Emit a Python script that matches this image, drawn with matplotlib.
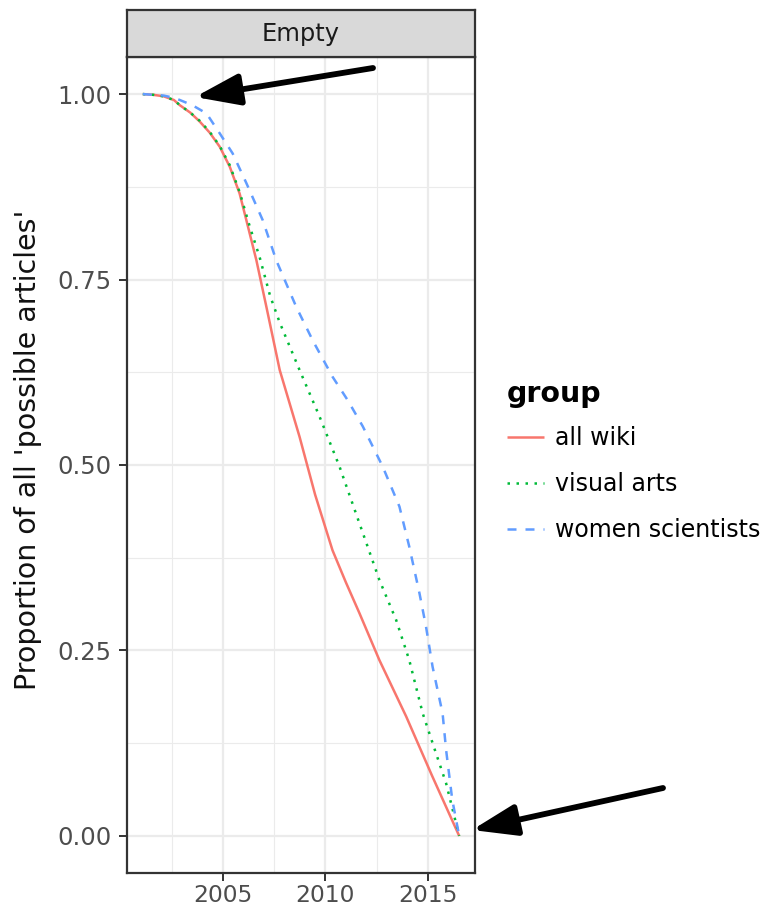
import matplotlib
matplotlib.use("Agg")
import matplotlib.pyplot as plt
import numpy as np

# Share of "possible articles" still empty over time, per group
all_wiki_year = [2001.08, 2001.6, 2002.1, 2002.6, 2002.89, 2003.4, 2003.86, 2004.35, 2004.84,
                 2005.33, 2005.81, 2006.14, 2006.63, 2007.12, 2007.77, 2008.74, 2009.5,
                 2010.35, 2011.0, 2011.67, 2012.64, 2013.95, 2015.2, 2016.54]
all_wiki_prop = [1.000, 0.999, 0.997, 0.992, 0.985, 0.975, 0.963, 0.948, 0.929,
                 0.902, 0.866, 0.830, 0.776, 0.713, 0.628, 0.538, 0.460,
                 0.385, 0.342, 0.300, 0.237, 0.161, 0.082, 0.000]

visual_arts_year = [2001.08, 2001.6, 2002.1, 2002.6, 2002.89, 2003.4, 2003.86, 2004.35, 2004.84,
                    2005.33, 2005.81, 2006.3, 2006.79, 2007.3, 2007.77, 2008.74, 2009.72,
                    2010.69, 2011.67, 2012.64, 2013.46, 2014.1, 2014.76, 2015.4, 2015.9, 2016.54]
visual_arts_prop = [1.000, 0.999, 0.997, 0.992, 0.985, 0.975, 0.964, 0.949, 0.930,
                    0.904, 0.868, 0.822, 0.780, 0.728, 0.692, 0.628, 0.565,
                    0.498, 0.421, 0.345, 0.291, 0.237, 0.165, 0.112, 0.071, 0.000]

women_sci_year = [2001.08, 2001.6, 2002.1, 2002.6, 2002.89, 2003.5, 2004.19, 2004.84, 2005.47,
                  2006.14, 2006.94, 2007.6, 2008.58, 2009.4, 2010.35, 2011.1, 2011.83,
                  2012.8, 2013.62, 2014.1, 2014.6, 2014.92, 2015.24, 2015.73, 2015.9,
                  2016.2, 2016.54]
women_sci_prop = [1.000, 0.999, 0.998, 0.995, 0.992, 0.985, 0.974, 0.947, 0.920,
                  0.880, 0.830, 0.776, 0.713, 0.667, 0.619, 0.587, 0.552,
                  0.498, 0.444, 0.390, 0.327, 0.282, 0.228, 0.165, 0.116,
                  0.049, 0.000]

group_labels = ["all wiki", "visual arts", "women scientists"]
facet_label = "Empty"
x_ticks = [2005, 2010, 2015]
y_ticks = [0.00, 0.25, 0.50, 0.75, 1.00]

W, H = 768, 909
fig = plt.figure(figsize=(W / 100, H / 100), dpi=100)
fig.patch.set_facecolor("white")

def fx(px):
    return px / W

def fy(py):
    return 1 - py / H

# panel
p_left, p_right, p_top, p_bot = 127, 475, 57, 873
ax = fig.add_axes([fx(p_left), fy(p_bot), fx(p_right - p_left), (p_bot - p_top) / H])

colors = ["#F8766D", "#00BA38", "#619CFF"]
lw = 1.8
l1, = ax.plot(all_wiki_year, all_wiki_prop, color=colors[0], lw=lw, solid_capstyle="butt")
l2, = ax.plot(visual_arts_year, visual_arts_prop, color=colors[1], lw=lw,
              dashes=(1, 2.6), dash_capstyle="butt")
l3, = ax.plot(women_sci_year, women_sci_prop, color=colors[2], lw=lw,
              dashes=(3.6, 3.6), dash_capstyle="butt")

xmin = min(all_wiki_year[0], visual_arts_year[0], women_sci_year[0])
xmax = max(all_wiki_year[-1], visual_arts_year[-1], women_sci_year[-1])
xpad = 0.05 * (xmax - xmin)
ax.set_xlim(xmin - xpad, xmax + xpad)
ax.set_ylim(-0.05, 1.05)

ax.set_xticks(x_ticks)
ax.set_xticks([2002.5, 2007.5, 2012.5], minor=True)
ax.set_yticks(y_ticks)
ax.set_yticks([0.125, 0.375, 0.625, 0.875], minor=True)
ax.set_yticklabels([f"{v:.2f}" for v in y_ticks])

ax.grid(which="major", color="#EBEBEB", lw=1.6)
ax.grid(which="minor", color="#EBEBEB", lw=0.8)
ax.set_axisbelow(True)
for s in ax.spines.values():
    s.set_color("#333333")
    s.set_linewidth(1.6)
ax.tick_params(which="major", length=6, width=1.4, color="#333333",
               labelcolor="#4D4D4D")
ax.tick_params(axis="y", which="major", labelsize=17.5, pad=5)
ax.tick_params(axis="x", which="major", labelsize=16.8, pad=2)
ax.tick_params(which="minor", length=0)

ax.set_ylabel("Proportion of all 'possible articles'", fontsize=20.5, color="#111111")
ax.yaxis.set_label_coords((42 - p_left) / (p_right - p_left), (p_bot - 450) / (p_bot - p_top))

# facet strip
strip = fig.add_axes([fx(p_left), fy(p_top), fx(p_right - p_left), (p_top - 10) / H])
strip.set_facecolor("#D9D9D9")
strip.set_xticks([])
strip.set_yticks([])
for s in strip.spines.values():
    s.set_color("#333333")
    s.set_linewidth(1.6)
strip.text(0.5, 0.5, facet_label, ha="center", va="center", fontsize=17.4, color="#1A1A1A")

# legend
leg = fig.legend([l1, l2, l3], group_labels, title="group", loc="upper left",
                 bbox_to_anchor=(fx(507), fy(380)), frameon=False, fontsize=17,
                 title_fontproperties={"size": 20.5, "weight": "bold"},
                 handlelength=1.55, handletextpad=0.5, labelspacing=0.93,
                 borderpad=0, borderaxespad=0)
leg._legend_box.align = "left"
leg._legend_box.sep = 13.3

# arrows
arrow_kw = dict(arrowstyle="-|>,head_length=2.7,head_width=0.95", color="black",
                lw=4.2, mutation_scale=10, shrinkA=0, shrinkB=0)
fig.add_artist(plt.Annotation("", xy=(195, H - 97), xytext=(373, H - 68),
                              xycoords="figure pixels", textcoords="figure pixels",
                              arrowprops=arrow_kw))
fig.add_artist(plt.Annotation("", xy=(472, H - 830), xytext=(663, H - 788),
                              xycoords="figure pixels", textcoords="figure pixels",
                              arrowprops=arrow_kw))

fig.savefig("out.png", dpi=100)
